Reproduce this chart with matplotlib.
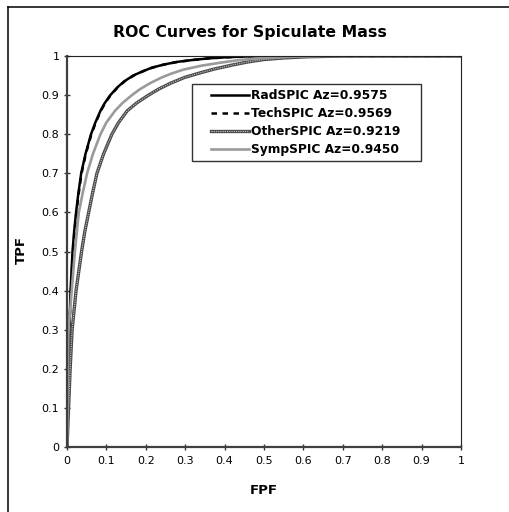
import matplotlib
matplotlib.use("Agg")
import matplotlib.pyplot as plt
from matplotlib.lines import Line2D
from matplotlib.legend_handler import HandlerTuple, HandlerLine2D

# ---- data ----
rad_tpf = [0, 0.10, 0.20, 0.30, 0.40, 0.50, 0.55, 0.60, 0.65, 0.70, 0.75, 0.80, 0.83, 0.86, 0.88, 0.90,
           0.92, 0.935, 0.95, 0.96, 0.97, 0.978, 0.985, 0.99, 0.994, 0.997, 0.999, 1.0, 1.0]
rad_fpf = [0, 0.002, 0.004, 0.006, 0.009, 0.014, 0.018, 0.023, 0.029, 0.036, 0.047, 0.061, 0.072, 0.085, 0.096, 0.110,
           0.128, 0.145, 0.168, 0.190, 0.215, 0.245, 0.280, 0.320, 0.360, 0.410, 0.460, 0.550, 1.0]

tech_tpf = [0, 0.10, 0.20, 0.30, 0.40, 0.50, 0.55, 0.60, 0.65, 0.70, 0.75, 0.80, 0.83, 0.86, 0.88, 0.90,
            0.92, 0.935, 0.95, 0.96, 0.97, 0.978, 0.985, 0.99, 0.994, 0.997, 0.999, 1.0, 1.0]
tech_fpf = [0, 0.002, 0.004, 0.006, 0.010, 0.015, 0.019, 0.024, 0.030, 0.037, 0.048, 0.062, 0.073, 0.086, 0.097, 0.111,
            0.129, 0.146, 0.169, 0.191, 0.216, 0.246, 0.281, 0.321, 0.361, 0.411, 0.461, 0.552, 1.0]

other_tpf = [0, 0.10, 0.20, 0.30, 0.40, 0.50, 0.55, 0.60, 0.65, 0.70, 0.75, 0.80, 0.83, 0.86, 0.88, 0.90,
             0.915, 0.93, 0.945, 0.956, 0.967, 0.977, 0.985, 0.991, 0.995, 0.998, 1.0, 1.0]
other_fpf = [0, 0.004, 0.008, 0.013, 0.023, 0.037, 0.045, 0.055, 0.065, 0.076, 0.093, 0.114, 0.131, 0.153, 0.177, 0.207,
             0.232, 0.262, 0.298, 0.335, 0.375, 0.420, 0.460, 0.500, 0.550, 0.610, 0.700, 1.0]

symp_tpf = [0, 0.10, 0.20, 0.30, 0.40, 0.50, 0.55, 0.60, 0.65, 0.70, 0.75, 0.80, 0.83, 0.86, 0.88, 0.90,
            0.915, 0.93, 0.945, 0.955, 0.965, 0.975, 0.983, 0.99, 0.995, 0.998, 1.0, 1.0]
symp_fpf = [0, 0.001, 0.002, 0.004, 0.012, 0.020, 0.025, 0.030, 0.040, 0.051, 0.066, 0.085, 0.100, 0.122, 0.141, 0.165,
            0.185, 0.210, 0.240, 0.265, 0.295, 0.340, 0.390, 0.440, 0.500, 0.560, 0.650, 1.0]

labels = ["RadSPIC Az=0.9575", "TechSPIC Az=0.9569", "OtherSPIC Az=0.9219", "SympSPIC Az=0.9450"]
ticks = [0, 0.1, 0.2, 0.3, 0.4, 0.5, 0.6, 0.7, 0.8, 0.9, 1]
tick_labels = ["0", "0.1", "0.2", "0.3", "0.4", "0.5", "0.6", "0.7", "0.8", "0.9", "1"]

plt.rcParams['font.family'] = ['DejaVu Sans']

W, H = 510, 512
fig = plt.figure(figsize=(W / 100, H / 100), dpi=100)
fig.patch.set_facecolor("white")

ax = fig.add_axes([67 / W, 1 - 447 / H, (461 - 67) / W, (447 - 56) / H])

kw = dict(solid_joinstyle="round", dash_joinstyle="round")
l_rad, = ax.plot(rad_fpf, rad_tpf, color="black", lw=1.8, **kw)
l_tech, = ax.plot(tech_fpf, tech_tpf, color="black", lw=1.8, linestyle=(0, (2.2, 2.2)), **kw)
l_oth1, = ax.plot(other_fpf, other_tpf, color="#4a4a4a", lw=2.4, **kw)
l_oth2, = ax.plot(other_fpf, other_tpf, color="#c8c8c8", lw=0.8, linestyle=(0, (1, 1)), **kw)
l_symp, = ax.plot(symp_fpf, symp_tpf, color="#9a9a9a", lw=1.9, **kw)

ax.set_xlim(0, 1)
ax.set_ylim(0, 1)
ax.set_xticks(ticks)
ax.set_xticklabels(tick_labels)
ax.set_yticks(ticks)
ax.set_yticklabels(tick_labels)
ax.tick_params(direction="inout", length=5, width=1, colors="#333333", labelsize=8, labelcolor="black")
ax.tick_params(axis="x", pad=4)
ax.tick_params(axis="y", pad=3)

for s in ["left", "bottom"]:
    ax.spines[s].set_color("#404040")
    ax.spines[s].set_linewidth(1.6)
for s in ["top", "right"]:
    ax.spines[s].set_color("#222222")
    ax.spines[s].set_linewidth(0.8)

fs = 8.8
xpad = 1.15
leg = ax.legend([l_rad, l_tech, (l_oth1, l_oth2), l_symp], labels,
                handler_map={tuple: HandlerTuple(ndivide=1, xpad=xpad),
                             Line2D: HandlerLine2D(xpad=xpad)},
                loc="upper left", bbox_to_anchor=(0.317, 0.729, 0.581, 0.199),
                mode="expand", borderaxespad=0, fancybox=False, frameon=True,
                prop={"weight": "bold", "size": fs}, handlelength=3.1 + xpad,
                handletextpad=0.15, labelspacing=0.42, borderpad=0.4)
leg.get_frame().set_edgecolor("black")
leg.get_frame().set_linewidth(1.0)

fig.text(250 / W, 1 - 33 / H, "ROC Curves for Spiculate Mass", ha="center", va="center",
         fontsize=11.3, fontweight="bold")
fig.text(264 / W, 1 - 490 / H, "FPF", ha="center", va="center", fontsize=9.5, fontweight="bold")
fig.text(21 / W, 1 - 250 / H, "TPF", ha="center", va="center", rotation=90, fontsize=9.5, fontweight="bold")

# outer chart frame (left and top edges visible)
fig.add_artist(Line2D([8.5 / W, 8.5 / W], [0, 1 - 7 / H], transform=fig.transFigure, color="black", lw=1.1))
fig.add_artist(Line2D([8.5 / W, 1], [1 - 7 / H, 1 - 7 / H], transform=fig.transFigure, color="black", lw=1.1))

fig.savefig("out.png", dpi=100)
